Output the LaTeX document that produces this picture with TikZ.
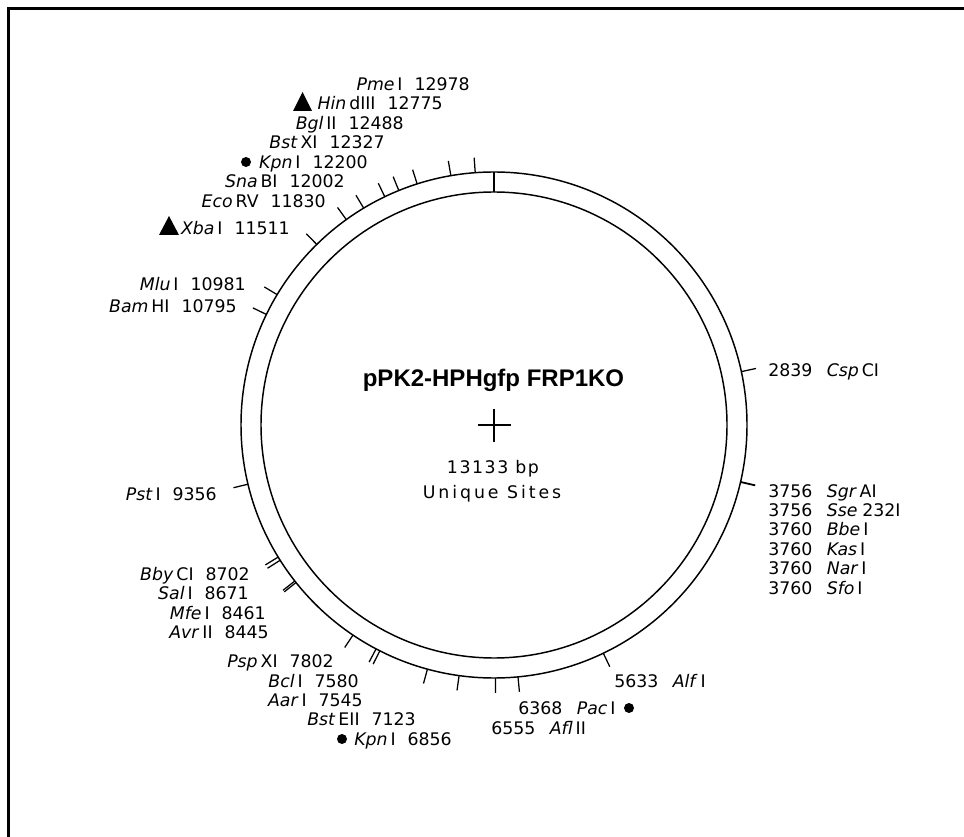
\documentclass[tikz,border=0pt]{standalone}
\usepackage{fontspec}
\setmainfont{DejaVu Sans}
\newfontfamily\titlefont{Liberation Sans Bold}
\newfontfamily\spacedA[LetterSpace=17]{DejaVu Sans}
\newfontfamily\spacedB[LetterSpace=9]{DejaVu Sans}
\newcommand{\nm}[1]{\textit{#1}}
\newcommand{\gp}{\hspace{9pt}}
\newcommand{\rsite}[3]{\makebox[33.4pt][l]{#1}\hspace{10.5pt}\nm{#2}\,#3}
\tikzset{
  lbl/.style={font=\fontsize{13pt}{15pt}\selectfont,inner sep=0pt,text=black,text height=9.5pt,text depth=0pt},
  lleft/.style={lbl,anchor=east},
  lright/.style={lbl,anchor=west},
  ring/.style={line width=1.1pt},
  ticks/.style={line width=0.95pt},
  marker/.style={fill=black,draw=none}
}
\newcommand{\tick}[1]{%
  \pgfmathsetmacro{\ang}{#1/13133*360}
  \draw[ticks] ({494+253*sin(\ang)},{425-253*cos(\ang)}) -- ({494+268*sin(\ang)},{425-268*cos(\ang)});}
\begin{document}
\begin{tikzpicture}[x=0.75pt,y=-0.75pt]
\useasboundingbox (0,0) rectangle (964,837);
\draw[line width=2.25pt] (8.5,837) -- (8.5,8.5) -- (964,8.5);
\draw[ring] (494,425) circle[radius=253];
\draw[ring] (494,425) circle[radius=233];
\draw[ticks] (494,172) -- (494,192);
\foreach \p in {2839,3756,3760,5633,6368,6555,6856,7123,7545,7580,7802,8445,8461,8671,8702,9356,10795,10981,11511,11830,12002,12200,12327,12488,12775,12978}{\tick{\p}}
\draw[ticks] (478,425) -- (511,425);
\draw[ticks] (494,409) -- (494,442);
\node[font=\titlefont\fontsize{18pt}{20pt}\selectfont,inner sep=0pt,text height=12.9pt,text depth=0pt] (title) at (493.5,378) {pPK2-HPHgfp FRP1KO};
\node[lbl] (size) at (493,467) {\spacedB 13133 bp};
\node[lbl] (uniq) at (492,492) {\spacedA Unique Sites};
\node[lleft] (pme) at (470,84) {\nm{Pme}\,I\gp 12978};
\node[lleft] (hind) at (443,103) {\nm{Hin}\,dIII\gp 12775};
\node[lleft] (bgl) at (404,123) {\nm{Bgl}\,II\gp 12488};
\node[lleft] (bstx) at (385,142) {\nm{Bst}\,XI\gp 12327};
\node[lleft] (kpna) at (368,162) {\nm{Kpn}\,I\gp 12200};
\node[lleft] (sna) at (345,181) {\nm{Sna}\,BI\gp 12002};
\node[lleft] (eco) at (326,201) {\nm{Eco}\,RV\gp 11830};
\node[lleft] (xba) at (290,228) {\nm{Xba}\,I\gp 11511};
\node[lleft] (mlu) at (246,284) {\nm{Mlu}\,I\gp 10981};
\node[lleft] (bam) at (237,306) {\nm{Bam}\,HI\gp 10795};
\node[lleft] (pst) at (217,494) {\nm{Pst}\,I\gp 9356};
\node[lleft] (bby) at (250,574) {\nm{Bby}\,CI\gp 8702};
\node[lleft] (sal) at (249,593) {\nm{Sal}\,I\gp 8671};
\node[lleft] (mfe) at (266,613) {\nm{Mfe}\,I\gp 8461};
\node[lleft] (avr) at (269,632) {\nm{Avr}\,II\gp 8445};
\node[lleft] (psp) at (334,661) {\nm{Psp}\,XI\gp 7802};
\node[lleft] (bcl) at (359,681) {\nm{Bcl}\,I\gp 7580};
\node[lleft] (aar) at (363,700) {\nm{Aar}\,I\gp 7545};
\node[lleft] (bste) at (416,719) {\nm{Bst}\,EII\gp 7123};
\node[lleft] (kpnb) at (452,739) {\nm{Kpn}\,I\gp 6856};
\node[lright] (csp) at (768,370) {\rsite{2839}{Csp}{CI}};
\node[lright] (sgr) at (768,491) {\rsite{3756}{Sgr}{AI}};
\node[lright] (sse) at (768,510) {\rsite{3756}{Sse}{\hspace{1.5pt}232I}};
\node[lright] (bbe) at (768,529) {\rsite{3760}{Bbe}{I}};
\node[lright] (kas) at (768,549) {\rsite{3760}{Kas}{I}};
\node[lright] (nar) at (768,568) {\rsite{3760}{Nar}{I}};
\node[lright] (sfo) at (768,588) {\rsite{3760}{Sfo}{I}};
\node[lright] (alf) at (614,681) {\rsite{5633}{Alf}{I}};
\node[lright] (pac) at (518,708) {\rsite{6368}{Pac}{I}};
\node[lright] (afl) at (491,728) {\rsite{6555}{Afl}{II}};
\fill[marker] (293,111) -- (302.5,92) -- (312,111) -- cycle;
\fill[marker] (159,235) -- (169,216) -- (179,235) -- cycle;
\fill[marker] (246,162) circle[radius=5];
\fill[marker] (342,739) circle[radius=5];
\fill[marker] (629,708) circle[radius=5];
\end{tikzpicture}
\end{document}
